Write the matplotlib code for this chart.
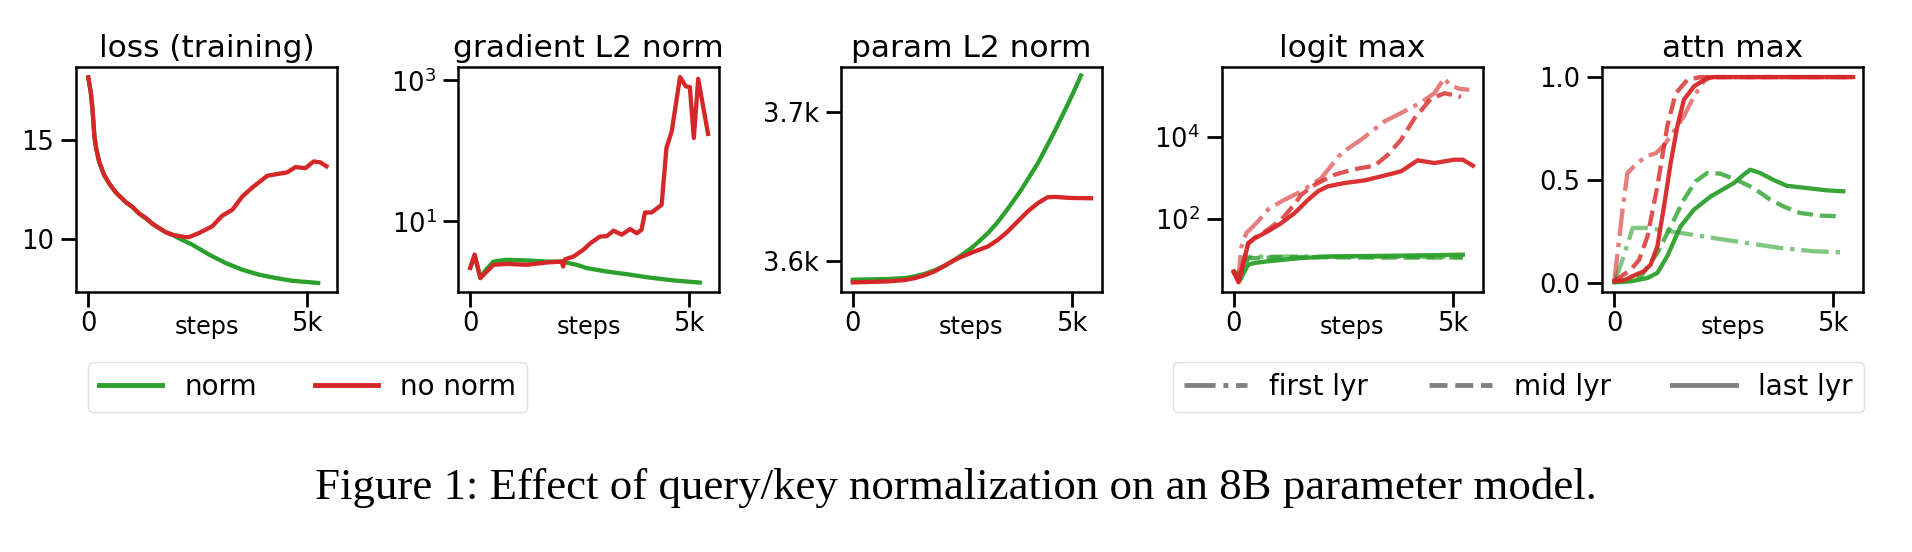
import matplotlib
matplotlib.use("Agg")
import matplotlib.pyplot as plt
from matplotlib.lines import Line2D
from matplotlib.ticker import NullLocator, FixedLocator, FixedFormatter

plt.rcParams['font.family'] = ['DejaVu Sans']

GREEN = '#2ca02c'
RED = '#d62728'

# ---------------- data ----------------
# loss (training)
loss_norm_steps = [0, 60, 100, 140, 180, 250, 360, 480, 630, 860, 1010, 1150, 1320, 1470, 1620, 1770, 1920, 2070, 2380, 2760, 3140, 3520, 3900, 4280, 4660, 5250]
loss_norm_vals = [18.2, 17.4, 16.5, 15.2, 14.6, 13.9, 13.25, 12.8, 12.35, 11.85, 11.6, 11.3, 11.02, 10.75, 10.53, 10.33, 10.2, 10.02, 9.69, 9.19, 8.76, 8.42, 8.17, 8.0, 7.86, 7.75]
loss_nonorm_steps = [0, 60, 100, 140, 180, 250, 360, 480, 630, 860, 1010, 1150, 1320, 1470, 1620, 1770, 1920, 2110, 2230, 2300, 2530, 2830, 3060, 3290, 3520, 3750, 4090, 4350, 4540, 4730, 4960, 5150, 5300, 5440]
loss_nonorm_vals = [18.2, 17.4, 16.5, 15.2, 14.6, 13.9, 13.25, 12.8, 12.35, 11.85, 11.62, 11.3, 11.05, 10.75, 10.54, 10.33, 10.2, 10.12, 10.08, 10.08, 10.29, 10.63, 11.17, 11.47, 12.15, 12.61, 13.2, 13.3, 13.37, 13.64, 13.59, 13.93, 13.88, 13.68]

# gradient L2 norm
grad_norm_steps = [0, 100, 230, 340, 530, 840, 1290, 1750, 2090, 2430, 2660, 3120, 3570, 4030, 4640, 5240]
grad_norm_vals = [2.2, 3.3, 1.6, 2.0, 2.7, 2.86, 2.8, 2.7, 2.7, 2.43, 2.18, 1.95, 1.79, 1.62, 1.46, 1.36]
grad_nonorm_steps = [0, 100, 230, 340, 530, 840, 1290, 1750, 2090, 2120, 2160, 2360, 2580, 2740, 2960, 3120, 3270, 3460, 3650, 3800, 3910, 3990, 4140, 4370, 4480, 4600, 4790, 4920, 5015, 5105, 5205, 5430]
grad_nonorm_vals = [2.2, 3.4, 1.57, 1.85, 2.43, 2.5, 2.43, 2.62, 2.7, 2.3, 2.9, 3.19, 3.96, 4.9, 6.1, 6.2, 7.4, 6.5, 7.8, 6.8, 7.6, 13.4, 13.4, 17.2, 110, 189, 1114, 822, 803, 152, 1050, 174]

# param L2 norm
param_norm_steps = [0, 810, 1190, 1420, 1650, 1870, 2100, 2330, 2520, 2710, 2900, 3090, 3280, 3470, 3660, 3850, 4040, 4230, 4420, 4610, 4760, 4910, 5060, 5210]
param_norm_vals = [3587.7, 3588.2, 3588.8, 3590, 3591.7, 3594, 3597.1, 3601.1, 3604.9, 3608.9, 3613.8, 3619, 3625.2, 3632.4, 3640, 3648, 3656.9, 3665.8, 3676.3, 3687, 3696, 3705, 3714.5, 3724.3]
param_nonorm_steps = [0, 810, 1190, 1420, 1650, 1870, 2100, 2330, 2560, 2790, 3090, 3320, 3540, 3770, 4000, 4230, 4450, 4610, 4990, 5440]
param_nonorm_vals = [3585.9, 3586.6, 3587.5, 3588.8, 3590.8, 3593.3, 3597.1, 3601, 3604, 3606.7, 3610, 3614.5, 3620, 3626.8, 3633.5, 3639, 3642.9, 3643.1, 3642.4, 3642.2]

# logit max (first / mid / last layer)
logit_norm_first_steps = [0, 140, 330, 1540, 3000, 5230]
logit_norm_first_vals = [5, 5, 12, 12.2, 12.0, 11.8]
logit_norm_mid_steps = [0, 140, 330, 780, 1540, 3000, 5230]
logit_norm_mid_vals = [5, 4, 11, 11.5, 11.8, 11.5, 11.5]
logit_norm_last_steps = [0, 140, 330, 480, 780, 1540, 2300, 3820, 5230]
logit_norm_last_vals = [5, 3.2, 7.7, 8.5, 9.3, 11.2, 12.3, 12.8, 13.5]
logit_nonorm_first_steps = [0, 110, 175, 290, 520, 780, 1090, 1540, 2000, 2460, 2910, 3440, 3820, 3970, 4280, 4580, 4810, 4920, 5150, 5380]
logit_nonorm_first_vals = [5, 4, 21, 46, 80, 170, 270, 473, 1000, 4100, 8600, 24000, 38500, 46500, 70000, 117000, 275000, 190000, 150000, 142000]
logit_nonorm_mid_steps = [0, 110, 240, 330, 480, 780, 1100, 1390, 1540, 1850, 2300, 2760, 3220, 3520, 3820, 4130, 4500, 4810, 5110, 5190]
logit_nonorm_mid_vals = [5, 3, 11, 25, 35, 55, 100, 230, 392, 687, 1200, 1650, 2000, 3700, 8600, 29000, 85000, 117000, 100000, 95000]
logit_nonorm_last_steps = [0, 110, 240, 330, 480, 780, 1090, 1390, 1700, 1920, 2150, 2530, 2990, 3370, 3820, 4200, 4580, 5040, 5230, 5460]
logit_nonorm_last_vals = [5.3, 2.85, 10.2, 26, 34, 50, 80, 140, 296, 473, 627, 755, 877, 1100, 1455, 2700, 2320, 2800, 2800, 2000]

# attn max (first / mid / last layer)
attn_norm_first_steps = [0, 200, 420, 760, 1520, 2270, 3030, 3790, 4550, 5190]
attn_norm_first_vals = [0.0, 0.12, 0.267, 0.267, 0.243, 0.218, 0.194, 0.17, 0.154, 0.149]
attn_norm_mid_steps = [0, 610, 985, 1290, 1590, 1860, 2120, 2420, 2800, 3180, 3560, 3860, 4240, 4700, 5150]
attn_norm_mid_vals = [0.003, 0.032, 0.146, 0.275, 0.405, 0.494, 0.534, 0.531, 0.50, 0.461, 0.405, 0.372, 0.34, 0.327, 0.324]
attn_norm_last_steps = [0, 380, 760, 985, 1210, 1515, 1820, 2200, 2730, 2955, 3105, 3330, 3640, 3940, 4390, 4850, 5230]
attn_norm_last_vals = [0.003, 0.008, 0.024, 0.049, 0.13, 0.275, 0.356, 0.42, 0.485, 0.526, 0.55, 0.534, 0.50, 0.472, 0.461, 0.45, 0.445]
attn_nonorm_first_steps = [0, 190, 300, 450, 720, 950, 1140, 1360, 1590, 1820, 2045, 2200, 5454]
attn_nonorm_first_vals = [0.008, 0.356, 0.534, 0.566, 0.615, 0.63, 0.67, 0.736, 0.81, 0.906, 0.979, 1.0, 1.0]
attn_nonorm_mid_steps = [0, 380, 570, 760, 985, 1210, 1400, 1670, 1970, 5454]
attn_nonorm_mid_vals = [0.008, 0.065, 0.113, 0.227, 0.47, 0.76, 0.92, 0.987, 1.0, 1.0]
attn_nonorm_last_steps = [0, 230, 450, 680, 830, 985, 1136, 1288, 1440, 1590, 1820, 2120, 2270, 5454]
attn_nonorm_last_vals = [0.008, 0.013, 0.036, 0.057, 0.089, 0.178, 0.372, 0.583, 0.76, 0.89, 0.955, 0.995, 1.0, 1.0]

titles = ['loss (training)', 'gradient L2 norm', 'param L2 norm', 'logit max', 'attn max']
x_ticks = [0, 5000]
x_ticklabels = ['0', '5k']
layer_labels = ['first lyr', 'mid lyr', 'last lyr']
caption = 'Figure 1: Effect of query/key normalization on an 8B parameter model.'

# ---------------- figure ----------------
W, H = 1912, 552
fig = plt.figure(figsize=(W / 100, H / 100), dpi=100)

ax_w = 261 / W
ax_h = 225 / H
ax_b = 1 - 292 / H
lefts = [76 / W, 458 / W, 840.5 / W, 1221.5 / W, 1602 / W]
axes = [fig.add_axes([l, ax_b, ax_w, ax_h]) for l in lefts]

LW = 3.1
TICK_FS = 18.5
styles = ['-.', '--', '-']
alphas = [0.6, 0.8, 0.95]

for ax, t in zip(axes, titles):
    ax.set_title(t, fontsize=22.5, pad=7.5)
    for s in ax.spines.values():
        s.set_linewidth(1.8)
        s.set_color('black')
    ax.tick_params(axis='both', which='major', length=10.5, width=2.0, labelsize=TICK_FS)
    ax.tick_params(axis='x', which='major', pad=3.5)
    ax.tick_params(axis='y', which='major', pad=5)
    ax.tick_params(axis='both', which='minor', length=0)
    ax.set_xlim(-280, 5680)
    ax.set_xticks(x_ticks)
    ax.set_xticklabels(x_ticklabels)
    ax.set_xlabel('steps', fontsize=17.3)
    ax.xaxis.label.set_va('baseline')
    ax.xaxis.set_label_coords(0.5, -0.188)

# loss
ax = axes[0]
ax.plot(loss_norm_steps, loss_norm_vals, color=GREEN, lw=LW)
ax.plot(loss_nonorm_steps, loss_nonorm_vals, color=RED, lw=LW)
ax.set_ylim(7.29, 18.73)
ax.set_yticks([10, 15])
ax.set_yticklabels(['10', '15'])

# gradient
ax = axes[1]
ax.plot(grad_norm_steps, grad_norm_vals, color=GREEN, lw=LW)
ax.plot(grad_nonorm_steps, grad_nonorm_vals, color=RED, lw=LW)
ax.set_yscale('log')
ax.set_ylim(1.0, 1545)
ax.yaxis.set_major_locator(FixedLocator([10, 1000]))
ax.yaxis.set_major_formatter(FixedFormatter([r'$10^1$', r'$10^3$']))
ax.yaxis.set_minor_locator(NullLocator())

# param
ax = axes[2]
ax.plot(param_norm_steps, param_norm_vals, color=GREEN, lw=LW)
ax.plot(param_nonorm_steps, param_nonorm_vals, color=RED, lw=LW)
ax.set_ylim(3579.5, 3730)
ax.set_yticks([3600, 3700])
ax.set_yticklabels(['3.6k', '3.7k'])

# logit
ax = axes[3]
logit_norm = [(logit_norm_first_steps, logit_norm_first_vals),
              (logit_norm_mid_steps, logit_norm_mid_vals),
              (logit_norm_last_steps, logit_norm_last_vals)]
logit_nonorm = [(logit_nonorm_first_steps, logit_nonorm_first_vals),
                (logit_nonorm_mid_steps, logit_nonorm_mid_vals),
                (logit_nonorm_last_steps, logit_nonorm_last_vals)]
for (xs, ys), ls, a in zip(logit_norm, styles, alphas):
    ax.plot(xs, ys, color=GREEN, lw=LW, ls=ls, alpha=a)
for (xs, ys), ls, a in zip(logit_nonorm, styles, alphas):
    ax.plot(xs, ys, color=RED, lw=LW, ls=ls, alpha=a)
ax.set_yscale('log')
ax.set_ylim(1.66, 5.1e5)
ax.yaxis.set_major_locator(FixedLocator([100, 10000]))
ax.yaxis.set_major_formatter(FixedFormatter([r'$10^2$', r'$10^4$']))
ax.yaxis.set_minor_locator(NullLocator())

# attn
ax = axes[4]
attn_norm = [(attn_norm_first_steps, attn_norm_first_vals),
             (attn_norm_mid_steps, attn_norm_mid_vals),
             (attn_norm_last_steps, attn_norm_last_vals)]
attn_nonorm = [(attn_nonorm_first_steps, attn_nonorm_first_vals),
               (attn_nonorm_mid_steps, attn_nonorm_mid_vals),
               (attn_nonorm_last_steps, attn_nonorm_last_vals)]
for (xs, ys), ls, a in zip(attn_norm, styles, alphas):
    ax.plot(xs, ys, color=GREEN, lw=LW, ls=ls, alpha=a)
for (xs, ys), ls, a in zip(attn_nonorm, styles, alphas):
    ax.plot(xs, ys, color=RED, lw=LW, ls=ls, alpha=a)
ax.set_ylim(-0.044, 1.049)
ax.set_yticks([0.0, 0.5, 1.0])
ax.set_yticklabels(['0.0', '0.5', '1.0'])

# legends
h1 = [Line2D([], [], color=GREEN, lw=LW + 0.4), Line2D([], [], color=RED, lw=LW + 0.4)]
fig.legend(h1, ['norm', 'no norm'], loc='upper left', bbox_to_anchor=(88 / W, 1 - 362 / H),
           ncol=2, fontsize=20, handlelength=2.27, handletextpad=0.8, columnspacing=2.08,
           borderaxespad=0, frameon=True, edgecolor='0.85')
h2 = [Line2D([], [], color='gray', lw=LW + 0.4, ls=s) for s in styles]
fig.legend(h2, layer_labels, loc='upper right', bbox_to_anchor=(1863.5 / W, 1 - 362 / H),
           ncol=3, fontsize=20, handlelength=2.27, handletextpad=0.8, columnspacing=2.2,
           borderaxespad=0, frameon=True, edgecolor='0.85')

fig.text(956 / W, 1 - 488 / H, caption, ha='center', va='center',
         fontsize=32.3, family=['Liberation Serif', 'DejaVu Serif'])

fig.savefig('out.png', dpi=100)
